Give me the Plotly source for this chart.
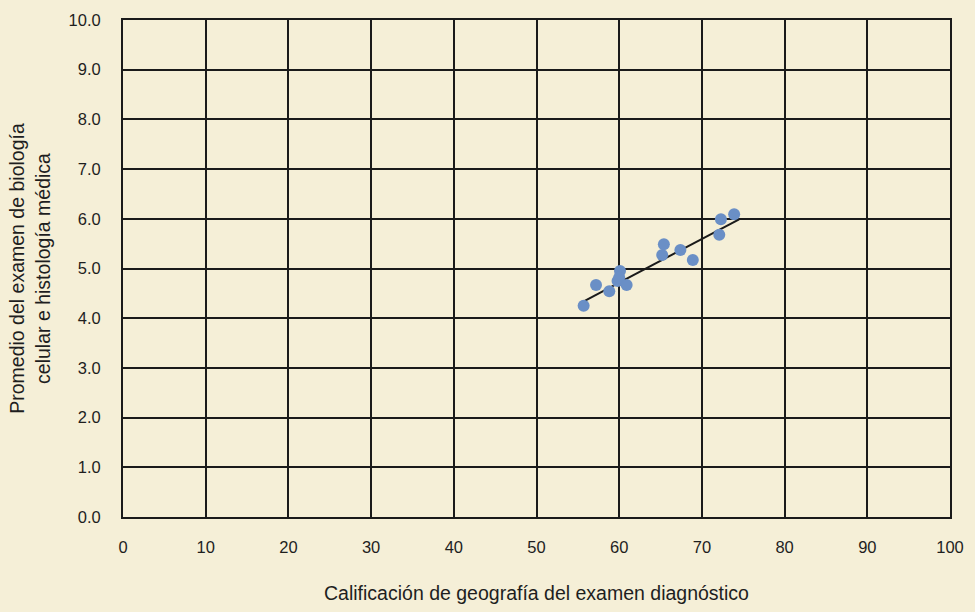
import plotly.graph_objects as go

# Data
geo_score = [55.7, 57.2, 58.8, 59.8, 60.1, 60.0, 60.9, 65.2, 65.4, 67.4, 68.9, 72.1, 72.3, 73.9]
bio_avg   = [4.25, 4.67, 4.54, 4.75, 4.95, 4.82, 4.67, 5.27, 5.49, 5.37, 5.17, 5.68, 5.99, 6.09]
trend_x = [55.6, 74.5]
trend_y = [4.33, 5.99]

x_ticks = [0, 10, 20, 30, 40, 50, 60, 70, 80, 90, 100]
y_ticks = [0, 1, 2, 3, 4, 5, 6, 7, 8, 9, 10]

bg = "#f5efd7"
font_fam = "Liberation Sans, Arial, Helvetica, sans-serif"

fig = go.Figure()
fig.add_trace(go.Scatter(x=trend_x, y=trend_y, mode="lines",
                         line=dict(color="#1a1a1a", width=2), showlegend=False))
fig.add_trace(go.Scatter(x=geo_score, y=bio_avg, mode="markers",
                         marker=dict(color="#6a8fc6", size=12), showlegend=False))

fig.update_layout(
    width=975, height=612,
    paper_bgcolor=bg, plot_bgcolor=bg,
    margin=dict(l=123, r=21, t=11, b=94),
    font=dict(family=font_fam, size=16.5, color="#1e1e1e"),
    xaxis=dict(range=[0, 100], tickvals=x_ticks, showgrid=True, gridcolor="#1a1a1a",
               gridwidth=2, showline=True, linecolor="#1a1a1a", linewidth=2, mirror=True,
               zeroline=False, ticks="outside", ticklen=14, tickcolor=bg,
               title=dict(text="Calificación de geografía del examen diagnóstico",
                          font=dict(size=19.5), standoff=32)),
    yaxis=dict(range=[0, 10], tickvals=y_ticks, tickformat=".1f", showgrid=True,
               gridcolor="#1a1a1a", gridwidth=2, showline=True, linecolor="#1a1a1a",
               linewidth=2, mirror=True, zeroline=False, ticks="outside", ticklen=17,
               tickcolor=bg,
               title=dict(text="Promedio del examen de biología<br>celular e histología médica",
                          font=dict(size=19.5), standoff=13)),
)

fig.write_html("out.html", config={"displayModeBar": False},
               post_script="document.body.style.margin='0';document.body.style.background='" + bg + "';")
